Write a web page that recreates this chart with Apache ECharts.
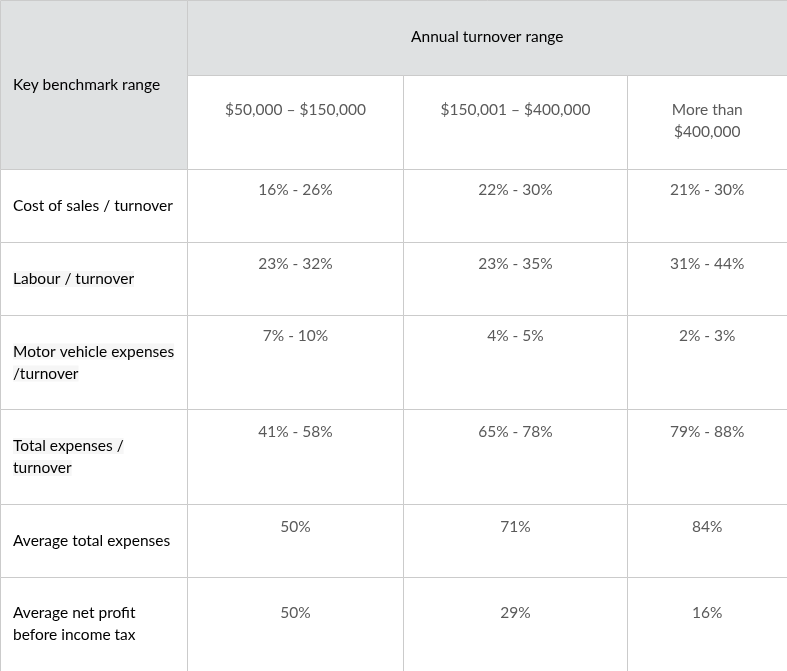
<!DOCTYPE html>
<html>
<head>
<meta charset="utf-8">
<title>Key benchmark range</title>
<script src="https://cdn.jsdelivr.net/npm/echarts@6/dist/echarts.min.js"></script>
<style>
  html, body { margin: 0; padding: 0; background: #fff; }
  #main { width: 787px; height: 671px; }
</style>
</head>
<body>
<div id="main"></div>
<script>
// table content
var groupTitle = 'Annual turnover range';
var cornerLabel = 'Key benchmark range';
var turnoverRanges = ['$50,000 – $150,000', '$150,001 – $400,000', 'More than\n$400,000'];
var benchmarks = [
  'Cost of sales / turnover',
  'Labour / turnover',
  'Motor vehicle expenses\n/turnover',
  'Total expenses /\nturnover',
  'Average total expenses',
  'Average net profit\nbefore income tax'
];
var band1 = ['16% - 26%', '23% - 32%', '7% - 10%', '41% - 58%', '50%', '50%'];
var band2 = ['22% - 30%', '23% - 35%', '4% - 5%', '65% - 78%', '71%', '29%'];
var band3 = ['21% - 30%', '31% - 44%', '2% - 3%', '79% - 88%', '84%', '16%'];

// layout (table grid in pixel units of the value axes)
var colEdges = [0.5, 187.5, 403.5, 627.5, 787];
var rowEdges = [0.5, 75.5, 169.5, 242.5, 315.5, 409.5, 504.5, 577.5, 671];
var firstLine = [0, 34, 20, 21, 20, 22, 22, 35]; // centre of first text line from cell top

var GREY = '#dfe1e2';
var LINE = '#cbcbcb';
var TXT = '#5a5a5a';
var DARK = '#1c2b3b';
var FONT = 'Lato, "Open Sans", sans-serif';
var SIZE = 15.5;

// cells: [c0, c1, r0, r1, text, kind]
var cells = [];
cells.push([0, 1, 0, 2, cornerLabel, 'corner']);
cells.push([1, 4, 0, 1, groupTitle, 'group']);
turnoverRanges.forEach(function (t, i) {
  cells.push([i + 1, i + 2, 1, 2, t, 'range']);
});
benchmarks.forEach(function (t, i) {
  cells.push([0, 1, i + 2, i + 3, t, 'label' + i]);
  cells.push([1, 2, i + 2, i + 3, band1[i], 'value']);
  cells.push([2, 3, i + 2, i + 3, band2[i], 'value']);
  cells.push([3, 4, i + 2, i + 3, band3[i], 'value']);
});

function labelText(t, kind) {
  // a few labels carry a faint highlight, two are darker (linked) text
  if (kind === 'label1' || kind === 'label2' || kind === 'label3') {
    return t.split('\n').map(function (s) { return '{h|' + s + '}'; }).join('\n');
  }
  if (kind === 'label4') return '{d|' + t + '}';
  if (kind === 'label5') {
    var p = t.split('\n');
    return '{n|' + p[0] + '}\n{d|' + p[1] + '}';
  }
  return '{n|' + t + '}';
}

var richStyles = {
  n: { color: TXT, fontSize: SIZE, fontFamily: FONT, lineHeight: 22 },
  d: { color: DARK, fontSize: SIZE, fontFamily: FONT, lineHeight: 22 },
  h: { color: TXT, fontSize: SIZE, fontFamily: FONT, lineHeight: 22, backgroundColor: '#f6f6f6' }
};

function renderCell(params, api) {
  var c = cells[params.dataIndex];
  var p0 = api.coord([colEdges[c[0]], rowEdges[c[2]]]);
  var p1 = api.coord([colEdges[c[1]], rowEdges[c[3]]]);
  var kind = c[5];
  var fill = (kind === 'corner' || kind === 'group') ? GREY : '#fff';
  // outer right / bottom borders fall outside the picture
  var w = p1[0] - p0[0] + (c[1] === 4 ? 10 : 0);
  var h = p1[1] - p0[1] + (c[3] === 8 ? 10 : 0);
  var textStyle;
  if (kind === 'corner' || kind.indexOf('label') === 0) {
    textStyle = {
      x: p0[0] + 12.5, y: (p0[1] + p1[1]) / 2,
      text: labelText(c[4], kind), rich: richStyles,
      align: 'left', verticalAlign: 'middle'
    };
  } else if (kind === 'group') {
    textStyle = {
      x: (p0[0] + p1[0]) / 2, y: (p0[1] + p1[1]) / 2 - 1,
      text: '{n|' + c[4] + '}', rich: richStyles,
      align: 'center', verticalAlign: 'middle'
    };
  } else {
    textStyle = {
      x: (p0[0] + p1[0]) / 2, y: p0[1] + firstLine[c[2]] - 11,
      text: c[4], fill: TXT, fontSize: SIZE, fontFamily: FONT, lineHeight: 22,
      align: 'center', verticalAlign: 'top'
    };
  }
  return {
    type: 'group',
    children: [
      {
        type: 'rect',
        shape: { x: p0[0], y: p0[1], width: w, height: h },
        style: { fill: fill, stroke: LINE, lineWidth: 1 }
      },
      { type: 'text', z2: 10, style: textStyle }
    ]
  };
}

var chart = echarts.init(document.getElementById('main'), null, { renderer: 'canvas' });
chart.setOption({
  animation: false,
  grid: { left: 0, right: 0, top: 0, bottom: 0 },
  xAxis: { type: 'value', min: 0, max: 787, show: false },
  yAxis: { type: 'value', min: 0, max: 671, inverse: true, show: false },
  series: [{
    type: 'custom',
    renderItem: renderCell,
    data: cells.map(function (c) { return [colEdges[c[0]], rowEdges[c[2]]]; }),
    clip: true,
    silent: true
  }]
});
</script>
</body>
</html>
